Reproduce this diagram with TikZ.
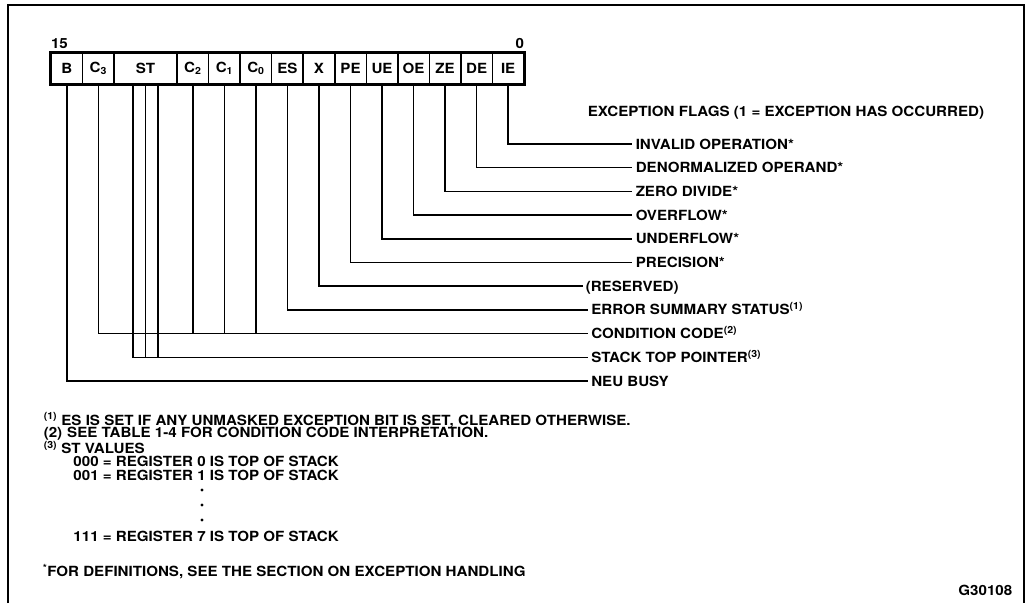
\documentclass[tikz,border=0pt]{standalone}
\usepackage{fontspec}
\setmainfont{TeX Gyre Heros}[FakeStretch=1.08]
\begin{document}
\begin{tikzpicture}[x=1pt, y=-1pt, line width=1.5pt,
    every node/.style={font=\fontsize{14}{15}\selectfont\bfseries},
    bitcell/.style={draw, line width=1.5pt, minimum height=31pt, inner sep=0pt, font=\fontsize{14}{14}\selectfont\bfseries},
    flaglabel/.style={anchor=west, inner sep=3pt, text height=10pt, text depth=0pt},
    note/.style={anchor=base west, inner sep=0pt}]
    \useasboundingbox (0,0) rectangle (1029,603);
    % Frame, open at the bottom
    \draw[line width=1.8pt] (8,603) -- (8,5) -- (1024,5) -- (1024,603);
    % Bit fields of the status word
    \foreach \cell/\txt/\k/\n in {B/B/0/1, C3/{C\textsubscript{3}}/1/1, ST/ST/2/2, C2/{C\textsubscript{2}}/4/1,
        C1/{C\textsubscript{1}}/5/1, C0/{C\textsubscript{0}}/6/1, ES/ES/7/1, X/X/8/1, PE/PE/9/1,
        UE/UE/10/1, OE/OE/11/1, ZE/ZE/12/1, DE/DE/13/1, IE/IE/14/1} {
        \pgfmathsetmacro\cw{\n*31.53}
        \node[bitcell, minimum width=\cw pt] (\cell) at ({51+(\k+\n/2)*31.53}, 68.5) {\txt};
    }
    \draw[line width=2.6pt] (B.north west) rectangle (IE.south east);
    \node[anchor=south west, inner sep=0pt, yshift=3pt] (msb) at (B.north west) {15};
    \node[anchor=south east, inner sep=0pt, yshift=3pt] (lsb) at (IE.north east) {0};
    % Field names
    \node[anchor=west, inner sep=0pt] (flags) at (587,113) {EXCEPTION FLAGS (1 = EXCEPTION HAS OCCURRED)};
    \node[flaglabel] (inv) at (632,144) {INVALID OPERATION*};
    \node[flaglabel] (den) at (632,167.7) {DENORMALIZED OPERAND*};
    \node[flaglabel] (zdiv) at (632,191.4) {ZERO DIVIDE*};
    \node[flaglabel] (ovf) at (632,215.1) {OVERFLOW*};
    \node[flaglabel] (unf) at (632,238.8) {UNDERFLOW*};
    \node[flaglabel] (prec) at (632,262.5) {PRECISION*};
    \node[flaglabel, inner sep=2pt] (res) at (583,286.2) {(RESERVED)};
    \node[flaglabel] (ess) at (587.5,309.9) {ERROR SUMMARY STATUS\textsuperscript{(1)}};
    \node[flaglabel] (cc) at (587.5,333.6) {CONDITION CODE\textsuperscript{(2)}};
    \node[flaglabel] (stp) at (587.5,357.3) {STACK TOP POINTER\textsuperscript{(3)}};
    \node[flaglabel] (neu) at (587.5,381) {NEU BUSY};
    % Leader lines
    \draw (IE.south) |- (inv.west);
    \draw (DE.south) |- (den.west);
    \draw (ZE.south) |- (zdiv.west);
    \draw (OE.south) |- (ovf.west);
    \draw (UE.south) |- (unf.west);
    \draw (PE.south) |- (prec.west);
    \draw (X.south) |- (res.west);
    \draw (ES.south) |- (ess.west);
    \draw (C3.south) |- (cc.west);
    \foreach \c in {C2,C1,C0}
        \draw (\c.south) -- (\c.south |- cc.west);
    \draw ([xshift=-12.5pt]ST.south) |- (stp.west);
    \foreach \s in {0,12.5}
        \draw ([xshift=\s pt]ST.south) -- ([xshift=\s pt]ST.south |- stp.west);
    \draw (B.south) |- (neu.west);
    % Notes
    \node[note] (n1) at (43,425) {\textsuperscript{(1)} ES IS SET IF ANY UNMASKED EXCEPTION BIT IS SET, CLEARED OTHERWISE.};
    \node[note] (n2) at (43,437.5) {(2)\hspace{5pt}SEE TABLE 1-4 FOR CONDITION CODE INTERPRETATION.};
    \node[note] (n3) at (43,453.5) {\textsuperscript{(3)} ST VALUES};
    \node[note] (st0) at (72.7,466.5) {000 = REGISTER 0 IS TOP OF STACK};
    \node[note] (st1) at (72.7,480.5) {001 = REGISTER 1 IS TOP OF STACK};
    \foreach \y in {490,505,520}
        \fill (202,\y) circle (1.7);
    \node[note] (st7) at (72.7,541) {111 = REGISTER 7 IS TOP OF STACK};
    \node[note] (defs) at (42,576.5) {\textsuperscript{*}FOR DEFINITIONS, SEE THE SECTION ON EXCEPTION HANDLING};
    \node[anchor=base east, inner sep=0pt] (fig) at (1013,595.5) {G30108};
\end{tikzpicture}
\end{document}
